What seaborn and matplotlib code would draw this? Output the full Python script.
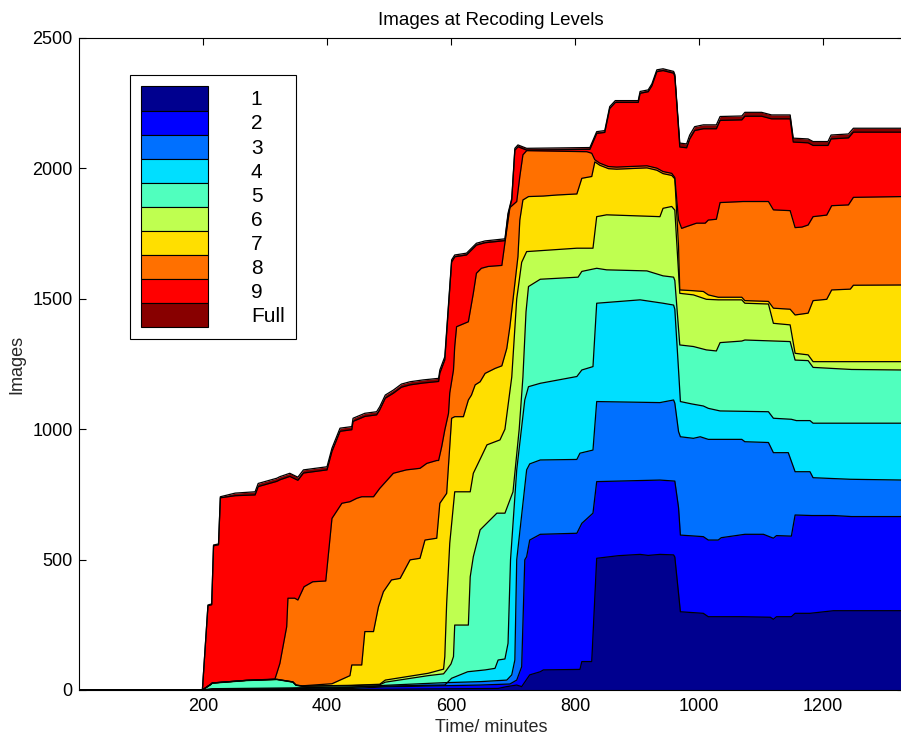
import matplotlib
matplotlib.use("Agg")
import matplotlib.pyplot as plt
from matplotlib.patches import Patch
import numpy as np
import pandas as pd
import seaborn as sns

sns.set_style("ticks")
plt.rcParams['font.family'] = ['Liberation Sans', 'DejaVu Sans']
plt.rcParams['axes.edgecolor'] = 'black'
plt.rcParams['xtick.color'] = 'black'
plt.rcParams['ytick.color'] = 'black'
plt.rcParams['text.color'] = 'black'

# ---------------- data (cumulative top of each recoding level) ----------------
level_names = ["1", "2", "3", "4", "5", "6", "7", "8", "9", "Full"]
level_colors = ["#00008f", "#0000ff", "#0070ff", "#00dfff", "#50ffbe",
                "#bfff50", "#ffdf00", "#ff7000", "#ff0000", "#880000"]

level_1 = [(0, 0), (199, 0), (440, 2), (560, 4), (676, 6), (690, 13), (706, 19), (714, 13),
           (727, 58), (744, 70), (749, 77), (808, 79), (811, 109), (827, 109), (835, 505),
           (870, 515), (905, 520), (918, 516), (937, 520), (959, 518), (961, 510), (970, 300),
           (1007, 294), (1015, 281), (1069, 281), (1115, 279), (1120, 271), (1125, 281),
           (1149, 281), (1155, 294), (1179, 294), (1217, 304), (1330, 304)]

level_2 = [(0, 0), (199, 0), (300, 2), (440, 6), (494, 12), (647, 19), (695, 23), (706, 38),
           (714, 89), (719, 499), (722, 511), (727, 575), (744, 597), (803, 601), (811, 639),
           (829, 678), (835, 799), (937, 805), (961, 801), (967, 700), (970, 594), (1007, 588),
           (1015, 575), (1031, 575), (1036, 584), (1074, 597), (1104, 597), (1120, 582),
           (1125, 592), (1149, 590), (1155, 671), (1182, 669), (1217, 669), (1246, 665), (1330, 665)]

level_3 = [(0, 0), (199, 0), (215, 3), (340, 5), (440, 10), (494, 18), (588, 28), (647, 32),
           (690, 38), (698, 58), (703, 115), (706, 499), (722, 844), (727, 867), (744, 882),
           (803, 884), (808, 908), (829, 920), (835, 1106), (937, 1102), (959, 1112), (961, 1100),
           (967, 991), (970, 971), (991, 965), (1002, 971), (1015, 961), (1069, 961), (1074, 952),
           (1112, 949), (1120, 910), (1144, 910), (1155, 837), (1179, 837), (1184, 814),
           (1244, 808), (1330, 805)]

level_4 = [(0, 0), (199, 0), (215, 5), (340, 8), (440, 12), (494, 15), (560, 18), (590, 19),
           (601, 45), (627, 70), (655, 77), (671, 83), (676, 115), (687, 119), (692, 179),
           (696, 499), (706, 844), (719, 1112), (725, 1163), (744, 1176), (803, 1202), (811, 1227),
           (829, 1240), (835, 1483), (905, 1496), (942, 1483), (959, 1476), (961, 1460), (967, 1227),
           (970, 1106), (988, 1097), (1007, 1089), (1015, 1080), (1034, 1070), (1112, 1067),
           (1120, 1042), (1149, 1038), (1157, 1033), (1179, 1033), (1184, 1023), (1330, 1023)]

level_5 = [(0, 0), (199, 0), (212, 20), (215, 26), (270, 36), (319, 40), (345, 30), (350, 18),
           (360, 14), (440, 17), (485, 20), (494, 30), (563, 55), (588, 62), (593, 77), (600, 100),
           (604, 128), (606, 249), (628, 249), (631, 434), (636, 511), (647, 614), (674, 678),
           (687, 678), (700, 760), (710, 1000), (716, 1200), (721, 1450), (725, 1547), (744, 1575),
           (805, 1583), (811, 1605), (835, 1617), (851, 1611), (916, 1607), (942, 1588), (959, 1583),
           (961, 1570), (969, 1323), (991, 1317), (1012, 1304), (1028, 1300), (1034, 1332),
           (1069, 1338), (1074, 1342), (1147, 1336), (1155, 1265), (1176, 1263), (1184, 1237),
           (1246, 1229), (1330, 1227)]

level_6 = [(0, 0), (199, 0), (212, 21), (215, 27), (270, 37), (319, 41), (345, 31), (350, 19),
           (360, 15), (440, 18), (485, 22), (494, 38), (563, 64), (588, 80), (590, 128), (593, 332),
           (598, 563), (606, 760), (631, 760), (636, 831), (649, 895), (658, 940), (679, 959),
           (687, 1000), (698, 1200), (706, 1500), (714, 1640), (722, 1681), (803, 1694), (829, 1694),
           (835, 1815), (851, 1822), (937, 1815), (942, 1847), (956, 1854), (961, 1840), (969, 1521),
           (991, 1515), (1012, 1498), (1031, 1496), (1069, 1496), (1074, 1483), (1112, 1480),
           (1120, 1406), (1147, 1400), (1155, 1291), (1176, 1285), (1184, 1259), (1330, 1259)]

level_7 = [(0, 0), (199, 0), (212, 21), (215, 27), (270, 37), (319, 41), (345, 31), (350, 19),
           (360, 16), (408, 24), (437, 55), (440, 96), (456, 96), (461, 224), (475, 224), (483, 319),
           (491, 377), (504, 422), (518, 428), (534, 499), (550, 505), (558, 575), (577, 582),
           (582, 716), (593, 754), (601, 1042), (606, 1048), (620, 1048), (628, 1112), (633, 1131),
           (639, 1170), (647, 1182), (655, 1214), (671, 1233), (682, 1243), (690, 1310), (695, 1393),
           (708, 1662), (711, 1802), (716, 1879), (725, 1892), (749, 1894), (771, 1898), (803, 1902),
           (811, 1962), (827, 1969), (832, 2025), (840, 2012), (854, 1999), (867, 1997), (916, 2002),
           (932, 1993), (942, 1980), (956, 1973), (961, 1960), (967, 1700), (969, 1534), (991, 1531),
           (1007, 1528), (1015, 1515), (1031, 1506), (1069, 1506), (1074, 1493), (1112, 1490),
           (1120, 1464), (1147, 1460), (1155, 1438), (1176, 1445), (1184, 1493), (1206, 1498),
           (1214, 1534), (1244, 1537), (1249, 1552), (1330, 1553)]

level_8 = [(0, 0), (199, 0), (212, 21), (215, 27), (270, 37), (316, 42), (319, 64), (324, 102),
           (335, 243), (337, 352), (348, 352), (353, 345), (363, 396), (377, 415), (398, 418),
           (408, 658), (424, 716), (437, 722), (448, 735), (456, 741), (475, 741), (485, 773),
           (507, 831), (528, 844), (550, 850), (561, 869), (577, 880), (580, 880), (585, 933),
           (590, 997), (596, 1061), (598, 1139), (604, 1227), (606, 1317), (609, 1393), (628, 1412),
           (636, 1521), (641, 1598), (649, 1617), (660, 1624), (682, 1628), (687, 1715), (695, 1850),
           (706, 1873), (711, 1969), (716, 2052), (722, 2068), (819, 2064), (827, 2058), (832, 2033),
           (840, 2020), (854, 2007), (867, 2005), (916, 2010), (932, 2001), (942, 1988), (956, 1981),
           (961, 1965), (967, 1802), (972, 1770), (980, 1777), (996, 1790), (1010, 1790), (1015, 1802),
           (1028, 1805), (1034, 1869), (1071, 1873), (1112, 1873), (1120, 1841), (1147, 1838),
           (1155, 1773), (1166, 1775), (1176, 1783), (1184, 1815), (1206, 1821), (1214, 1857),
           (1241, 1860), (1249, 1889), (1330, 1892)]

level_9 = [(0, 0), (199, 0), (208, 323), (214, 327), (217, 553), (225, 557), (228, 737), (252, 745),
           (284, 748), (289, 780), (319, 800), (324, 806), (340, 819), (353, 804), (362, 832),
           (400, 844), (408, 915), (421, 992), (440, 998), (442, 1030), (461, 1049), (480, 1055),
           (485, 1074), (494, 1119), (507, 1138), (520, 1161), (534, 1170), (555, 1177), (580, 1183),
           (582, 1215), (590, 1266), (601, 1641), (606, 1661), (625, 1668), (633, 1687), (641, 1706),
           (655, 1715), (687, 1723), (692, 1821), (698, 1880), (703, 2070), (708, 2083), (722, 2070),
           (824, 2073), (835, 2134), (848, 2138), (856, 2230), (865, 2253), (902, 2253), (905, 2288),
           (918, 2294), (924, 2317), (932, 2371), (942, 2375), (959, 2365), (961, 2352), (969, 2082),
           (980, 2079), (985, 2113), (993, 2145), (1007, 2152), (1028, 2152), (1034, 2184),
           (1069, 2186), (1074, 2200), (1101, 2200), (1117, 2190), (1147, 2190), (1152, 2101),
           (1176, 2098), (1184, 2088), (1208, 2088), (1213, 2113), (1241, 2117), (1249, 2139),
           (1330, 2139)]

level_full = [(0, 0), (199, 0), (208, 326), (214, 330), (217, 556), (225, 560), (228, 741), (252, 755),
              (284, 760), (289, 792), (319, 812), (324, 818), (340, 831), (353, 816), (362, 844),
              (400, 856), (408, 927), (421, 1004), (440, 1010), (442, 1042), (461, 1061), (480, 1067),
              (485, 1086), (494, 1131), (507, 1150), (520, 1173), (534, 1182), (555, 1189), (580, 1195),
              (582, 1227), (590, 1278), (601, 1649), (606, 1668), (625, 1675), (633, 1694), (641, 1713),
              (655, 1722), (687, 1730), (692, 1828), (698, 1885), (703, 2077), (708, 2090), (722, 2077),
              (824, 2080), (835, 2141), (848, 2145), (856, 2237), (865, 2260), (902, 2260), (905, 2295),
              (918, 2301), (924, 2324), (932, 2378), (942, 2382), (959, 2372), (961, 2360), (969, 2097),
              (980, 2094), (985, 2128), (993, 2160), (1007, 2167), (1028, 2167), (1034, 2199),
              (1069, 2201), (1074, 2215), (1101, 2215), (1117, 2205), (1147, 2205), (1152, 2116),
              (1176, 2113), (1184, 2103), (1208, 2103), (1213, 2128), (1241, 2132), (1249, 2154),
              (1330, 2154)]

x_ticks = [200, 400, 600, 800, 1000, 1200]
y_ticks = [0, 500, 1000, 1500, 2000, 2500]

boundaries = [level_1, level_2, level_3, level_4, level_5,
              level_6, level_7, level_8, level_9, level_full]

# ---------------- figure ----------------
W, H = 901, 737
fig = plt.figure(figsize=(W / 100, H / 100), dpi=100)
ax = fig.add_axes([79 / W, 47 / H, 1330 * 0.62 / W, 652 / H])

frames = [pd.DataFrame(b, columns=["minutes", "images"]) for b in boundaries]

# fill from the top level down so every layer shows between its boundaries
for df, col in reversed(list(zip(frames, level_colors))):
    ax.fill_between(df["minutes"], df["images"], 0, color=col, linewidth=0, zorder=2)

for df in frames:
    sns.lineplot(data=df, x="minutes", y="images", color="black", linewidth=0.9,
                 estimator=None, sort=False, ax=ax, zorder=3)

ax.set_xlim(0, 1330)
ax.set_ylim(0, 2500)
ax.set_xticks(x_ticks)
ax.set_yticks(y_ticks)
ax.tick_params(axis='both', direction='in', length=5, width=0.8, top=True, right=True,
               labelsize=13)
ax.tick_params(axis='y', pad=4.5)
ax.tick_params(axis='x', pad=6)
for s in ax.spines.values():
    s.set_linewidth(0.8)
    s.set_color('black')
    s.set_zorder(5)

ax.set_xlabel("Time/ minutes", fontsize=13, labelpad=3)
ax.set_ylabel("Images", fontsize=13, labelpad=5)
ax.set_title("Images at Recoding Levels", fontsize=13.5, pad=9.5)

handles = [Patch(facecolor=c, edgecolor='black', linewidth=0.8) for c in level_colors]
leg = ax.legend(handles, level_names, loc='upper left',
                bbox_to_anchor=(130 / W, 1 - 75 / H), bbox_transform=fig.transFigure,
                fontsize=15, handlelength=3.2, handleheight=1.4, labelspacing=0.0,
                handletextpad=2.05, borderpad=0.55, borderaxespad=0.0,
                frameon=True, fancybox=False, framealpha=1, edgecolor='black')
leg.get_frame().set_linewidth(0.8)
leg.set_zorder(10)

fig.savefig("out.png", dpi=100)
